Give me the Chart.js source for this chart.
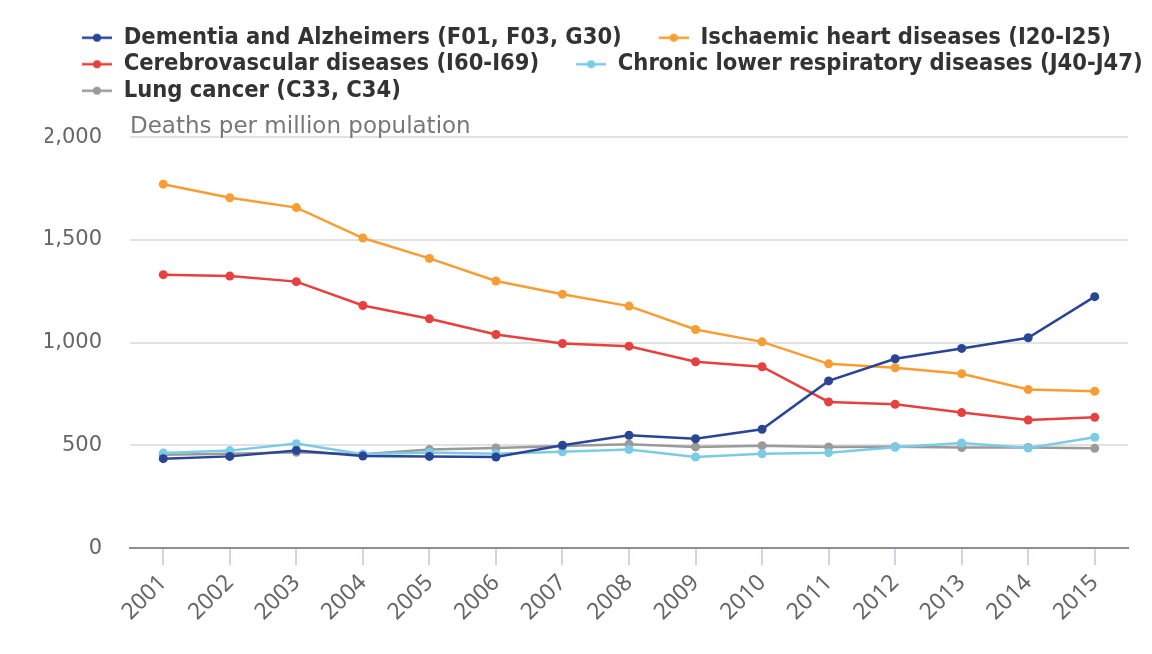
<!DOCTYPE html>
<html>
<head>
<meta charset="utf-8">
<script src="https://cdn.jsdelivr.net/npm/chart.js@4.4.1/dist/chart.umd.min.js"></script>
<style>
  html, body { margin: 0; padding: 0; background: #fff; }
  #wrap { width: 1152px; height: 654px; }
</style>
</head>
<body>
<div id="wrap"><canvas id="lineChart"></canvas></div>
<script>
// years on the x axis
const years = ['2001', '2002', '2003', '2004', '2005', '2006', '2007', '2008',
               '2009', '2010', '2011', '2012', '2013', '2014', '2015'];

const seriesNames = [
    'Dementia and Alzheimers (F01, F03, G30)',
    'Ischaemic heart diseases (I20-I25)',
    'Cerebrovascular diseases (I60-I69)',
    'Chronic lower respiratory diseases (J40-J47)',
    'Lung cancer (C33, C34)'
];

// deaths per million population
const dementia    = [436, 447, 476, 449, 447, 444, 501, 550, 533, 579, 814, 922, 972, 1024, 1224];
const ischaemic   = [1771, 1705, 1657, 1509, 1410, 1300, 1236, 1178, 1064, 1004, 897, 878, 849, 772, 764];
const cerebro     = [1331, 1324, 1297, 1181, 1116, 1040, 996, 983, 907, 883, 712, 700, 660, 624, 637];
const respiratory = [464, 475, 509, 457, 466, 460, 469, 480, 444, 460, 465, 491, 512, 488, 540];
const lungCancer  = [455, 460, 467, 457, 480, 488, 497, 506, 493, 499, 493, 494, 490, 490, 486];

const yTicks = [0, 500, 1000, 1500, 2000];

const colors = ['#2a4596', '#f89d33', '#e6403f', '#7ccbe5', '#9a9a9a'];
const allValues = [dementia, ischaemic, cerebro, respiratory, lungCancer];

// legend marker: line with a dot, drawn on the right part of a wider box
const MARK_W = 64;
const makeMarker = (color) => {
    let c = document.createElement('canvas');
    c.width = MARK_W;
    c.height = 12;
    let ctx = c.getContext('2d');
    ctx.strokeStyle = color;
    ctx.lineWidth = 2.5;
    ctx.beginPath();
    ctx.moveTo(MARK_W - 30, 6);
    ctx.lineTo(MARK_W, 6);
    ctx.stroke();
    ctx.fillStyle = color;
    ctx.beginPath();
    ctx.arc(MARK_W - 15, 6, 4, 0, Math.PI * 2);
    ctx.fill();
    return c;
};
const markers = colors.map(makeMarker);

const datasets = seriesNames.map((name, i) => ({
    label: name,
    data: allValues[i],
    borderColor: colors[i],
    backgroundColor: colors[i],
    borderWidth: 2.5,
    pointRadius: 4.5,
    pointHoverRadius: 5,
    pointBorderWidth: 0,
    tension: 0
}));

new Chart(document.getElementById('lineChart'), {
    type: 'line',
    data: { labels: years, datasets: datasets },
    options: {
        responsive: true,
        maintainAspectRatio: false,
        animation: false,
        layout: { padding: { left: 45, right: 0, top: 23, bottom: 24 } },
        plugins: {
            legend: {
                position: 'top',
                align: 'start',
                labels: {
                    usePointStyle: true,
                    pointStyleWidth: MARK_W,
                    padding: 3,
                    color: '#333',
                    font: { family: '"DejaVu Sans Condensed", "DejaVu Sans"', size: 23.5, weight: 'bold' },
                    generateLabels: (chart) => {
                        let items = Chart.defaults.plugins.legend.labels.generateLabels(chart);
                        items.forEach((it) => { it.pointStyle = markers[it.datasetIndex]; });
                        return items;
                    }
                }
            },
            title: {
                display: true,
                text: 'Deaths per million population',
                align: 'start',
                position: 'top',
                fullSize: false,
                weight: 500,
                color: '#777',
                font: { family: '"DejaVu Sans"', size: 23, weight: 'normal' },
                padding: { top: 1, bottom: -4 }
            },
            tooltip: { enabled: false }
        },
        scales: {
            x: {
                offset: true,
                border: { display: true, color: '#8e8e8e', width: 2 },
                grid: {
                    display: true,
                    drawOnChartArea: false,
                    offset: false,
                    color: '#ccd6eb',
                    tickLength: 17,
                    lineWidth: 2
                },
                ticks: {
                    color: '#666',
                    maxRotation: 45,
                    minRotation: 45,
                    padding: 4,
                    font: { family: '"Noto Sans"', size: 23 }
                }
            },
            y: {
                min: 0,
                max: 2000,
                afterBuildTicks: (axis) => { axis.ticks = yTicks.map((v) => ({ value: v })); },
                afterFit: (axis) => { axis.width = 85; },
                border: { display: false },
                grid: { color: '#e2e2e2', lineWidth: 2, drawTicks: false },
                ticks: {
                    color: '#666',
                    padding: 28,
                    font: { family: '"DejaVu Sans"', size: 21 },
                    callback: (v) => v.toLocaleString('en-US')
                }
            },
            // empty right-hand gutter
            yRight: {
                position: 'right',
                display: true,
                afterFit: (axis) => { axis.width = 24; },
                border: { display: false },
                grid: { drawOnChartArea: false, drawTicks: false },
                ticks: { display: false }
            }
        }
    }
});
</script>
</body>
</html>
